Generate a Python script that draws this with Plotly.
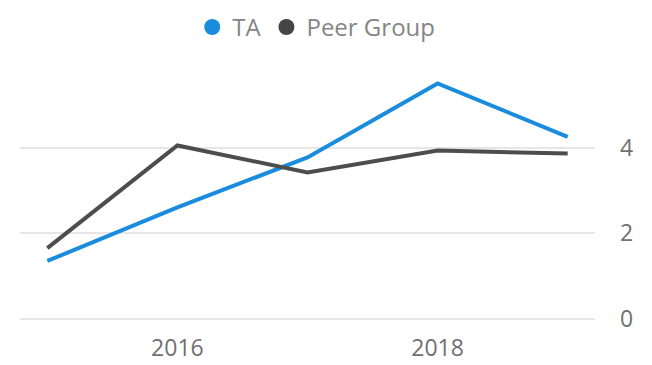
import plotly.graph_objects as go

# Yearly scores for TA against its peer group
years = [2015, 2016, 2017, 2018, 2019]
ta_values = [1.35, 2.6, 3.77, 5.5, 4.25]
peer_values = [1.65, 4.05, 3.42, 3.93, 3.86]
x_tick_vals = [2016, 2018]
x_tick_text = ["2016", "2018"]
y_tick_vals = [0, 2, 4]

TA_COLOR = "#1A8CDD"
PEER_COLOR = "#4D4D4D"
TEXT_COLOR = "#707070"
FONT = "Open Sans, Noto Sans, sans-serif"

fig = go.Figure()

fig.add_trace(go.Scatter(x=years, y=ta_values, mode="lines", name="TA",
                         line=dict(color=TA_COLOR, width=4), showlegend=False))
fig.add_trace(go.Scatter(x=years, y=peer_values, mode="lines", name="Peer Group",
                         line=dict(color=PEER_COLOR, width=4), showlegend=False))

# Circle-only legend entries
fig.add_trace(go.Scatter(x=[None], y=[None], mode="markers", name="TA",
                         marker=dict(color=TA_COLOR, size=22, symbol="circle")))
fig.add_trace(go.Scatter(x=[None], y=[None], mode="markers", name="Peer Group",
                         marker=dict(color="#454545", size=22, symbol="circle")))

fig.update_layout(
    width=652, height=365,
    margin=dict(l=20, r=57, t=62, b=45),
    paper_bgcolor="white", plot_bgcolor="white",
    font=dict(family=FONT, color=TEXT_COLOR, size=22),
    legend=dict(orientation="h", x=0.485, xref="container", xanchor="center",
                y=0.925, yref="container", yanchor="middle",
                font=dict(size=24, color="#858585"), itemsizing="trace",
                itemwidth=30, tracegroupgap=0),
    xaxis=dict(range=[2014.79, 2019.21], tickvals=x_tick_vals, ticktext=x_tick_text,
               showgrid=False, zeroline=False, showline=False, ticks="",
               automargin=False, ticklabelstandoff=12,
               tickfont=dict(size=23, color=TEXT_COLOR)),
    yaxis=dict(range=[-0.03, 6], tickvals=y_tick_vals, side="right",
               showgrid=True, gridcolor="#E6E6E6", gridwidth=2,
               zeroline=False, showline=False, ticks="", automargin=False,
               ticklabelstandoff=24, tickfont=dict(size=23, color=TEXT_COLOR)),
)

fig.write_html("out.html")
